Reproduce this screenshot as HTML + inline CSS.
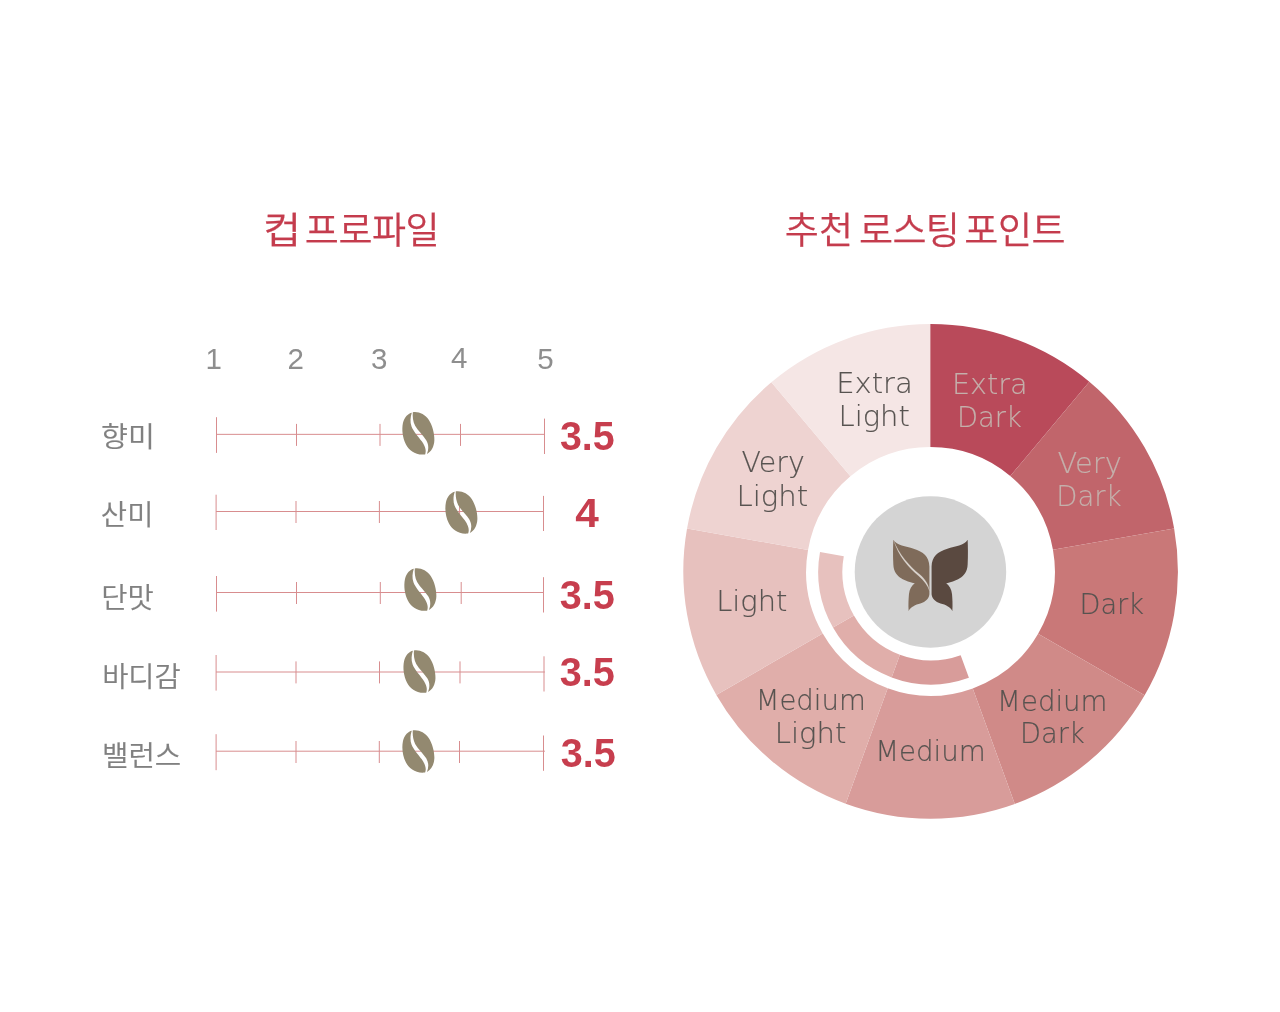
<!DOCTYPE html>
<html lang="ko"><head><meta charset="utf-8"><title>컵 프로파일 · 추천 로스팅 포인트</title>
<style>
html,body{margin:0;padding:0;background:#fff;}
body{width:1280px;height:1012px;overflow:hidden;}
svg{display:block;}
.ko{font-family:"Liberation Sans","Noto Sans CJK KR","NanumGothic",sans-serif;font-weight:350;}
.title{font-size:37.0px;fill:#c43c4d;stroke:#c43c4d;stroke-width:.25px;}
.lab{font-size:28px;fill:#808080;stroke:#808080;stroke-width:.2px;}
.num{font-family:"Liberation Sans",sans-serif;font-size:29.5px;fill:#8e8e8e;text-anchor:middle;}
.val{font-family:"Liberation Sans",sans-serif;font-weight:700;font-size:41px;fill:#c73e4e;}
.seg{font-family:"DejaVu Sans","Liberation Sans",sans-serif;font-weight:200;font-size:28px;stroke-width:.15px;}
.dk{fill:#575350;stroke:#575350;}
.lt{fill:#c4b0ab;stroke:#c4b0ab;}
</style></head><body>
<svg width="1280" height="1012" viewBox="0 0 1280 1012">
<rect width="1280" height="1012" fill="#fff"/>

<text class="ko title" x="262.94" y="244.2" textLength="38.20" lengthAdjust="spacingAndGlyphs">컵</text>
<text class="ko title" y="244.2"><tspan x="304.85" style="letter-spacing:-0.49px">프로파일</tspan></text>
<text class="ko title" y="244.2"><tspan x="784.65" style="letter-spacing:0.41px">추천</tspan> <tspan x="858.95" style="letter-spacing:-0.59px">로스팅</tspan> <tspan x="964.35" style="letter-spacing:-0.41px">포인트</tspan></text>
<text class="num" x="213.6" y="369.0">1</text>
<text class="num" x="295.8" y="369.0">2</text>
<text class="num" x="379.1" y="369.0">3</text>
<text class="num" x="459.3" y="368.0">4</text>
<text class="num" x="545.5" y="369.0">5</text>
<text class="ko lab" x="100.98" y="447.4" textLength="53.93" lengthAdjust="spacingAndGlyphs">향미</text>
<g stroke="#d88d8f" stroke-width="1" fill="none"><path d="M216.5 434.35H544.5"/><path d="M216.5 417.2V452.9M544.5 418.6V454.0M296.5 423.9V445.9M380 423.9V445.9M460.5 423.9V445.9"/></g>
<g fill="#938970" transform="translate(392.41 404.94) scale(0.05543 0.05500)"><path d="M350 140C290 150 215 215 190 330C165 450 185 600 240 710C300 830 420 920 590 900C615 840 600 760 530 660C470 580 380 480 345 390C315 310 325 210 350 140Z"/><path d="M368 133C470 115 590 170 655 270C720 370 760 520 757 640C752 760 700 850 622 890C655 810 660 730 610 640C560 560 460 470 410 380C370 300 362 210 368 133Z"/></g>
<text class="val" x="559.90" y="450.3" textLength="54.70" lengthAdjust="spacingAndGlyphs">3.5</text>
<text class="ko lab" x="100.89" y="524.9" textLength="52.52" lengthAdjust="spacingAndGlyphs">산미</text>
<g stroke="#d88d8f" stroke-width="1" fill="none"><path d="M216.1 511.5H543.5"/><path d="M216.1 494.7V530.0M543.5 495.9V531.0M296 501.0V523.0M379.4 501.0V523.0M459.6 501.0V523.0"/></g>
<g fill="#938970" transform="translate(435.41 484.05) scale(0.05543 0.05500)"><path d="M350 140C290 150 215 215 190 330C165 450 185 600 240 710C300 830 420 920 590 900C615 840 600 760 530 660C470 580 380 480 345 390C315 310 325 210 350 140Z"/><path d="M368 133C470 115 590 170 655 270C720 370 760 520 757 640C752 760 700 850 622 890C655 810 660 730 610 640C560 560 460 470 410 380C370 300 362 210 368 133Z"/></g>
<text class="val" x="575.16" y="527.3" textLength="23.57" lengthAdjust="spacingAndGlyphs">4</text>
<text class="ko lab" x="101.27" y="608.2" textLength="52.53" lengthAdjust="spacingAndGlyphs">단맛</text>
<g stroke="#d88d8f" stroke-width="1" fill="none"><path d="M216.5 592.5H543.5"/><path d="M216.5 576.0V611.6M543.5 577.2V612.5M296.5 582.0V604.0M380.3 582.0V604.0M461.2 582.0V604.0"/></g>
<g fill="#938970" transform="translate(394.41 561.14) scale(0.05543 0.05500)"><path d="M350 140C290 150 215 215 190 330C165 450 185 600 240 710C300 830 420 920 590 900C615 840 600 760 530 660C470 580 380 480 345 390C315 310 325 210 350 140Z"/><path d="M368 133C470 115 590 170 655 270C720 370 760 520 757 640C752 760 700 850 622 890C655 810 660 730 610 640C560 560 460 470 410 380C370 300 362 210 368 133Z"/></g>
<text class="val" x="559.69" y="608.8" textLength="55.11" lengthAdjust="spacingAndGlyphs">3.5</text>
<text class="ko lab" x="102.15" y="686.9" textLength="78.65" lengthAdjust="spacingAndGlyphs">바디감</text>
<g stroke="#d88d8f" stroke-width="1" fill="none"><path d="M216.1 672.0H544.9"/><path d="M216.1 655.0V690.6M544.0 656.3V691.5M296 661.4V683.4M379.5 661.4V683.4M460 661.4V683.4"/></g>
<g fill="#938970" transform="translate(393.51 643.14) scale(0.05543 0.05500)"><path d="M350 140C290 150 215 215 190 330C165 450 185 600 240 710C300 830 420 920 590 900C615 840 600 760 530 660C470 580 380 480 345 390C315 310 325 210 350 140Z"/><path d="M368 133C470 115 590 170 655 270C720 370 760 520 757 640C752 760 700 850 622 890C655 810 660 730 610 640C560 560 460 470 410 380C370 300 362 210 368 133Z"/></g>
<text class="val" x="559.69" y="686.0" textLength="55.11" lengthAdjust="spacingAndGlyphs">3.5</text>
<text class="ko lab" x="102.02" y="766.1" textLength="79.22" lengthAdjust="spacingAndGlyphs">밸런스</text>
<g stroke="#d88d8f" stroke-width="1" fill="none"><path d="M216.1 751.2H544.9"/><path d="M216.1 734.2V770.2M543.5 735.5V770.8M296 741.0V763.0M379.3 741.0V763.0M459.5 741.0V763.0"/></g>
<g fill="#938970" transform="translate(392.41 723.05) scale(0.05543 0.05500)"><path d="M350 140C290 150 215 215 190 330C165 450 185 600 240 710C300 830 420 920 590 900C615 840 600 760 530 660C470 580 380 480 345 390C315 310 325 210 350 140Z"/><path d="M368 133C470 115 590 170 655 270C720 370 760 520 757 640C752 760 700 850 622 890C655 810 660 730 610 640C560 560 460 470 410 380C370 300 362 210 368 133Z"/></g>
<text class="val" x="560.69" y="766.5" textLength="55.01" lengthAdjust="spacingAndGlyphs">3.5</text>
<path d="M930.20 324.10A247.3 247.3 0 0 1 1089.35 381.78L1010.25 476.04A124.35 124.35 0 0 0 930.20 447.10Z" fill="#b94a5a"/>
<path d="M1089.35 381.78A247.3 247.3 0 0 1 1174.14 528.44L1052.95 549.81A124.35 124.35 0 0 0 1010.25 476.04Z" fill="#c1656b"/>
<path d="M1174.14 528.44A247.3 247.3 0 0 1 1144.65 695.26L1038.12 633.75A124.35 124.35 0 0 0 1052.95 549.81Z" fill="#c97878"/>
<path d="M1144.65 695.26A247.3 247.3 0 0 1 1014.81 803.92L972.77 688.40A124.35 124.35 0 0 0 1038.12 633.75Z" fill="#d08a88"/>
<path d="M1014.81 803.92A247.3 247.3 0 0 1 845.68 803.66L887.70 688.20A124.35 124.35 0 0 0 972.77 688.40Z" fill="#d89c9a"/>
<path d="M845.68 803.66A247.3 247.3 0 0 1 716.35 694.91L822.73 633.50A124.35 124.35 0 0 0 887.70 688.20Z" fill="#e0aeaa"/>
<path d="M716.35 694.91A247.3 247.3 0 0 1 687.04 528.57L808.03 549.91A124.35 124.35 0 0 0 822.73 633.50Z" fill="#e7c1be"/>
<path d="M687.04 528.57A247.3 247.3 0 0 1 771.38 382.18L850.39 476.34A124.35 124.35 0 0 0 808.03 549.91Z" fill="#eed3d1"/>
<path d="M771.38 382.18A247.3 247.3 0 0 1 930.20 324.10L930.20 447.10A124.35 124.35 0 0 0 850.39 476.34Z" fill="#f5e6e5"/>
<path d="M968.92 677.82A112.6 112.6 0 0 1 891.64 677.40L899.90 654.71A88.45 88.45 0 0 0 960.66 655.13Z" fill="#d89c9a"/>
<path d="M891.64 677.40A112.6 112.6 0 0 1 833.00 627.57L853.92 615.49A88.45 88.45 0 0 0 899.90 654.71Z" fill="#e0aeaa"/>
<path d="M833.00 627.57A112.6 112.6 0 0 1 820.01 552.02L843.79 556.21A88.45 88.45 0 0 0 853.92 615.49Z" fill="#e7c1be"/>
<circle cx="930.45" cy="571.9" r="75.75" fill="#d4d4d4"/>
<g transform="translate(880 525) scale(0.09881)"><path d="M135 150C170 210 260 215 340 240C440 270 497 320 500 420L500 700C495 760 440 785 390 800C340 815 300 845 290 872C285 800 290 740 293 700C298 650 320 615 352 590C270 570 140 540 135 400C130 300 132 220 135 150Z" fill="#7f6b5a"/><path d="M138 154C192 298 302 420 400 498C458 546 492 602 501 668C483 612 447 562 389 513C290 432 184 310 138 154Z" fill="#dad4ce" stroke="#dad4ce" stroke-width="1.5"/><g transform="translate(1022 0) scale(-1 1)"><path d="M135 150C170 210 260 215 340 240C440 270 497 320 500 420L500 700C495 760 440 785 390 800C340 815 300 845 290 872C285 800 290 740 293 700C298 650 320 615 352 590C270 570 140 540 135 400C130 300 132 220 135 150Z" fill="#5a4940"/></g></g>
<text class="seg lt" x="951.91" y="394.0" textLength="75.74" lengthAdjust="spacingAndGlyphs">Extra</text>
<text class="seg lt" x="956.97" y="426.9" textLength="64.91" lengthAdjust="spacingAndGlyphs">Dark</text>
<text class="seg lt" x="1057.52" y="472.8" textLength="64.33" lengthAdjust="spacingAndGlyphs">Very</text>
<text class="seg lt" x="1056.36" y="505.7" textLength="65.23" lengthAdjust="spacingAndGlyphs">Dark</text>
<text class="seg dk" x="1079.49" y="613.6" textLength="64.59" lengthAdjust="spacingAndGlyphs">Dark</text>
<text class="seg dk" x="997.06" y="711.0" textLength="110.48" lengthAdjust="spacingAndGlyphs">Medium</text>
<text class="seg dk" x="1019.99" y="743.2" textLength="64.69" lengthAdjust="spacingAndGlyphs">Dark</text>
<text class="seg dk" x="875.16" y="760.6" textLength="110.59" lengthAdjust="spacingAndGlyphs">Medium</text>
<text class="seg dk" x="755.67" y="709.9" textLength="110.16" lengthAdjust="spacingAndGlyphs">Medium</text>
<text class="seg dk" x="774.75" y="742.7" textLength="71.60" lengthAdjust="spacingAndGlyphs">Light</text>
<text class="seg dk" x="716.16" y="610.5" textLength="71.28" lengthAdjust="spacingAndGlyphs">Light</text>
<text class="seg dk" x="741.64" y="471.5" textLength="63.19" lengthAdjust="spacingAndGlyphs">Very</text>
<text class="seg dk" x="736.44" y="505.7" textLength="71.71" lengthAdjust="spacingAndGlyphs">Light</text>
<text class="seg dk" x="836.17" y="392.8" textLength="76.73" lengthAdjust="spacingAndGlyphs">Extra</text>
<text class="seg dk" x="838.56" y="425.9" textLength="71.28" lengthAdjust="spacingAndGlyphs">Light</text>
</svg></body></html>
